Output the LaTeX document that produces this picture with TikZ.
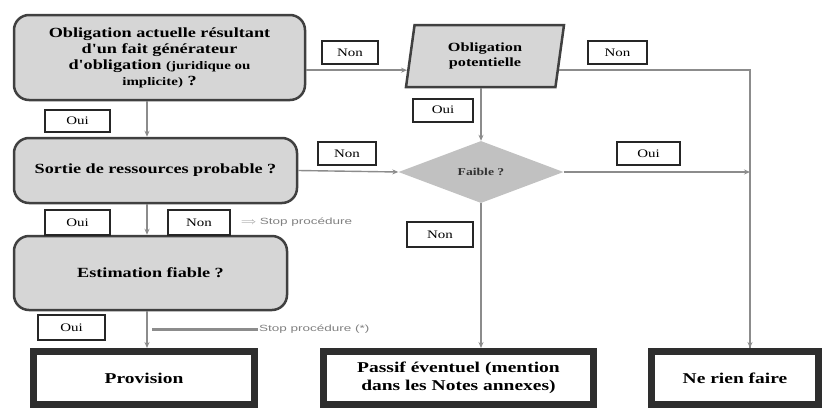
\documentclass[tikz,border=0pt]{standalone}
\usepackage{fontspec}
\setmainfont{Liberation Serif}
\setsansfont{Liberation Sans}
\newfontfamily\wserif[FakeStretch=1.3]{Liberation Serif}
\newfontfamily\wsans[FakeStretch=1.5]{Liberation Sans}
\usetikzlibrary{shapes.geometric,arrows.meta,calc}
\definecolor{boxfill}{HTML}{D6D6D6}
\definecolor{boxline}{HTML}{404040}
\definecolor{conn}{HTML}{8C8C8C}
\definecolor{thick}{HTML}{2E2E2E}
\begin{document}
\begin{tikzpicture}[x=1pt,y=-1pt,
  qbox/.style={draw=boxline,line width=2.5pt,fill=boxfill,rounded corners=15pt,align=center,font=\wserif\bfseries\fontsize{14}{16}\selectfont,inner sep=0pt},
  lbl/.style={draw=black!85,line width=2pt,fill=white,font=\wserif\fontsize{11.5}{12}\selectfont,inner sep=0pt,minimum height=23pt},
  res/.style={draw=thick,line width=7pt,fill=white,align=center,font=\wserif\bfseries\fontsize{15}{18.5}\selectfont,inner sep=0pt,minimum height=53pt},
  arr/.style={draw=conn,line width=1.4pt,-{Stealth[length=6pt,width=5pt]}},
  ln/.style={draw=conn,line width=1.4pt},
  stoptxt/.style={font=\wsans\fontsize{9}{10}\selectfont,text=black!50,inner sep=1pt,anchor=west}]
\useasboundingbox (0,0) rectangle (829,410);
\coordinate (c1) at (147,0);
% question boxes
\node[qbox,minimum width=291pt,minimum height=85pt] (b1) at (159.5,57.5)
  {Obligation actuelle résultant\\d'un fait générateur\\d'obligation {\fontsize{11.5}{16}\selectfont (juridique ou}\\{\fontsize{11.5}{14}\selectfont implicite)} ?};
\node[qbox,minimum width=283pt,minimum height=65pt] (b2) at (155.5,170.5) {Sortie de ressources probable ?};
\node[qbox,minimum width=273pt,minimum height=74pt] (b3) at (150.5,273) {Estimation fiable ?};
% parallelogram
\node[trapezium,trapezium left angle=72,trapezium right angle=108,trapezium stretches body,
  draw=boxline,line width=2.5pt,fill=boxfill,minimum width=158pt,minimum height=62pt,align=center,
  font=\wserif\bfseries\fontsize{12.5}{15}\selectfont,inner sep=0pt] (par) at (485,56) {Obligation\\potentielle};
% diamond
\node[diamond,fill=boxfill!90!black,minimum width=165pt,minimum height=62pt,inner sep=0pt,
  font=\wserif\bfseries\fontsize{10.5}{12}\selectfont,text=black!80] (dia) at (481,172) {Faible ?};
% result boxes
\node[res,minimum width=221pt] (prov) at (144,378) {Provision};
\node[res,minimum width=270pt] (pas) at (458.5,378) {Passif éventuel (mention\\dans les Notes annexes)};
\node[res,minimum width=167pt] (rien) at (735,378) {Ne rien faire};
% connectors
\coordinate (p1) at ($(par.bottom left corner)!0.28!(par.top left corner)$);
\coordinate (p2) at ($(par.bottom right corner)!0.28!(par.top right corner)$);
\coordinate (r1) at (750,0);
\draw[arr] (b1.east |- p1) -- (p1);
\draw[ln] (p2) -- (r1 |- p2) -- (r1 |- rien.north);
\draw[arr] ($(r1 |- rien.north)+(0,-10)$) -- (r1 |- rien.north);
\draw[arr] (dia.north |- par.bottom side) -- (dia.north);
\draw[arr] (b2.east) -- (dia.west);
\draw[arr] (dia.east) -- (r1 |- dia.east);
\draw[arr] (dia.south) -- (dia.south |- pas.north);
\draw[arr] (b1.south -| c1) -- (b2.north -| c1);
\draw[arr] (b2.south -| c1) -- (b3.north -| c1);
\draw[arr] (b3.south -| c1) -- (prov.north -| c1);
% labels
\node[lbl,minimum width=56pt] (n1) at (350,52.5) {Non};
\node[lbl,minimum width=59pt] (n2) at (617.5,52.5) {Non};
\node[lbl,minimum width=60pt] (o1) at (443,110) {Oui};
\node[lbl,minimum width=65pt,minimum height=22pt] (o2) at (77.5,121) {Oui};
\node[lbl,minimum width=58pt] (n3) at (347,153.5) {Non};
\node[lbl,minimum width=63pt] (o3) at (648.5,153.5) {Oui};
\node[lbl,minimum width=66pt,minimum height=25pt] (n4) at (440,234.5) {Non};
\node[lbl,minimum width=65pt,minimum height=25pt] (o4) at (77.5,222.5) {Oui};
\node[lbl,minimum width=62pt,minimum height=25pt] (n5) at (199,222.5) {Non};
\node[lbl,minimum width=67pt,minimum height=25pt] (o5) at (71.5,327.5) {Oui};
% stop texts
\node[stoptxt] (s1) at (240,222) {$\Longrightarrow$ Stop procédure};
\coordinate (s2a) at (152,329);
\node[stoptxt] (s2) at (258,329) {Stop procédure (*)};
\draw[draw=conn,line width=3pt] (s2a) -- (s2.west);
\end{tikzpicture}
\end{document}
